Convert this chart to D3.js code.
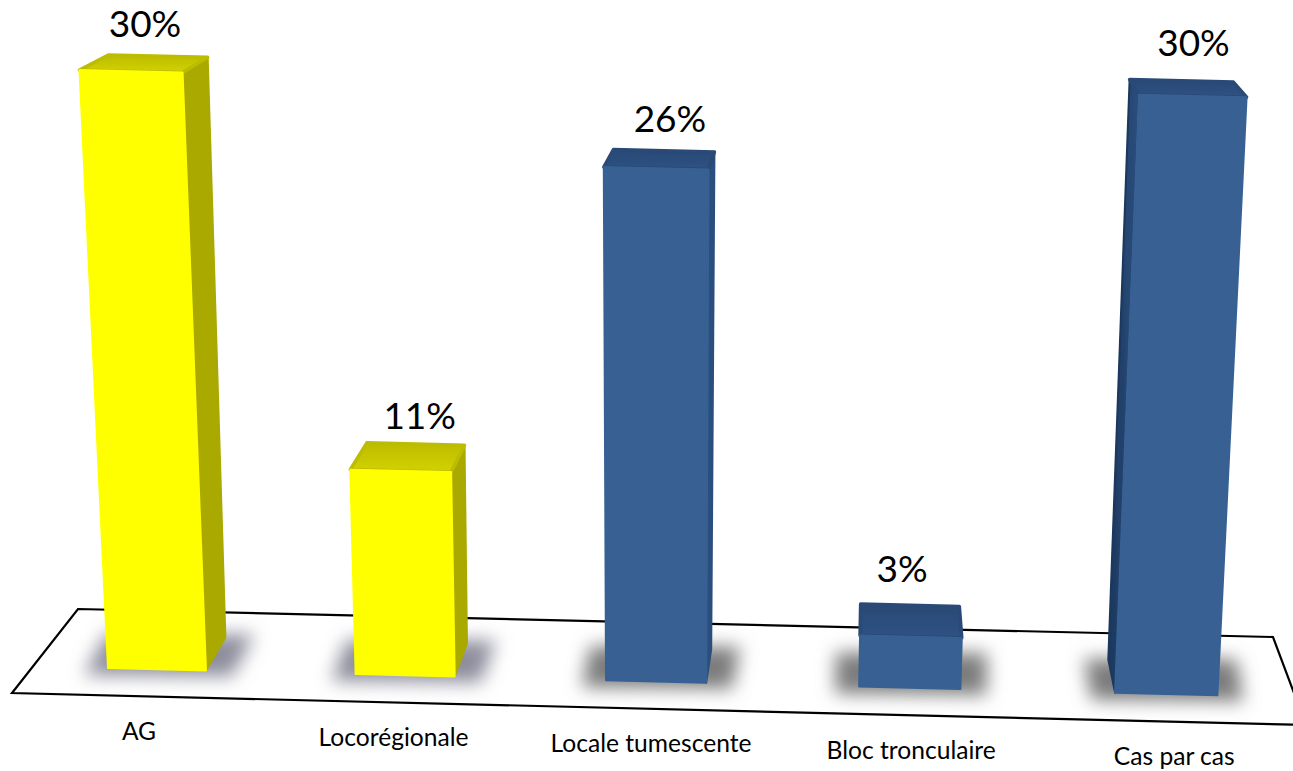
<!DOCTYPE html>
<html>
<head>
<meta charset="utf-8">
<script src="https://cdn.jsdelivr.net/npm/d3@7/dist/d3.min.js"></script>
<style>
html,body{margin:0;padding:0;background:#fff;overflow:hidden}
svg{display:block}
text{font-family:Lato,"Noto Sans",sans-serif;fill:#000}
</style>
</head>
<body>
<svg id="chart" width="1293" height="771"></svg>
<script>
// ---- data
const categories = ["AG", "Locorégionale", "Locale tumescente", "Bloc tronculaire", "Cas par cas"];
const percentages = [30, 11, 26, 3, 30];
const groups = ["yellow", "yellow", "blue", "blue", "blue"];

// ---- layout (hand-placed value labels in the original)
const labelNudgeX = [-13, 4, 6, -8, 12];
const labelLift = [19, 15, 19, 23, 25];

const palette = {
  yellow: {front: "#ffff00", top0: "#bcbc00", top1: "#d2d200", side0: "#b4b400", side1: "#a9a900", shadow: "#8d8d9c"},
  blue:   {front: "#376193", top0: "#294a76", top1: "#2e5283", side0: "#1b375c", side1: "#2c4f7f", shadow: "#7c7c7c"}
};

const svg = d3.select("#chart");
const defs = svg.append("defs");
defs.append("filter").attr("id", "soft").attr("x", "-30%").attr("y", "-80%").attr("width", "160%").attr("height", "260%")
  .append("feGaussianBlur").attr("stdDeviation", 9);
defs.append("filter").attr("id", "edge").attr("x", "-10%").attr("y", "-10%").attr("width", "120%").attr("height", "120%")
  .append("feGaussianBlur").attr("stdDeviation", 0.7);

Object.entries(palette).forEach(([k, c]) => {
  const t = defs.append("linearGradient").attr("id", "top-" + k).attr("x1", 0).attr("y1", 0).attr("x2", 0).attr("y2", 1);
  t.append("stop").attr("offset", "0%").attr("stop-color", c.top0);
  t.append("stop").attr("offset", "100%").attr("stop-color", c.top1);
  const s = defs.append("linearGradient").attr("id", "side-" + k).attr("x1", 0).attr("y1", 0).attr("x2", 1).attr("y2", 0);
  s.append("stop").attr("offset", "0%").attr("stop-color", c.side0);
  s.append("stop").attr("offset", "100%").attr("stop-color", c.side1);
});

// ---- scales
const xBand = d3.scaleBand().domain(categories).range([108, 1215]).paddingInner(0.603).paddingOuter(0);
const heightScale = d3.scalePow().exponent(1.07).domain([0, 30]).range([0, 598]);

// floor and perspective projection
const warp = x => x + 2.17e-5 * (x - 108) * (x - 1115);
const baseY = x => 668 + 0.0245 * (x - 108);
const vanishX = 656, vanishDist = 11500;
const front = (xb, h) => [vanishX + (xb - vanishX) * (1 + h / vanishDist), baseY(xb) - h];
const depth = ([x, y], h) => [
  x + (880 - x) * 0.036 * (0.8 + 0.2 * h / 600),
  y - (33 - 18 * h / 600)
];
const poly = d3.line();

// ---- floor
const floorCorners = [[78, 609], [1273, 637], [1306, 725], [12, 693]];
svg.append("path")
  .attr("d", poly(floorCorners) + "Z")
  .attr("fill", "none").attr("stroke", "#000").attr("stroke-width", 2.2).attr("stroke-linejoin", "miter");

const rows = categories.map((c, i) => {
  const left = xBand(c);
  const xl = warp(left), xr = warp(left + xBand.bandwidth());
  const h = heightScale(percentages[i]);
  const p = {
    c, v: percentages[i], k: groups[i], i, h,
    fl0: front(xl, 0), fr0: front(xr, 0),
    fl1: front(xl, h), fr1: front(xr, h)
  };
  p.bl1 = depth(p.fl1, h); p.br1 = depth(p.fr1, h);
  p.bl0 = depth(p.fl0, 0); p.br0 = depth(p.fr0, 0);
  return p;
});

// ---- shadows
svg.append("g").selectAll("path").data(rows).join("path")
  .attr("d", d => {
    const [lx, ly] = d.fl0, [rx, ry] = d.fr0;
    const lean = d.bl0[0] - lx;
    return poly([
      [lx - 24, ly + 7], [rx + 26, ry + 6],
      [rx + 26 + lean, ry - 36], [lx - 24 + lean, ly - 34]
    ]) + "Z";
  })
  .attr("fill", d => palette[d.k].shadow)
  .attr("filter", "url(#soft)");

// ---- bars
const bars = svg.append("g").selectAll("g").data(rows).join("g").attr("filter", "url(#edge)");
const faceStyle = (sel, fill) => sel.attr("fill", fill).attr("stroke", fill)
  .attr("stroke-width", 3.5).attr("stroke-linejoin", "round");

// side faces: whichever side of the block faces the viewer
bars.filter(d => d.br1[0] > d.fr1[0]).append("path")
  .attr("d", d => poly([d.fr1, d.br1, d.br0, d.fr0]) + "Z")
  .call(faceStyle, d => palette[d.k].side1)
  .attr("stroke-width", 2);
bars.filter(d => d.bl1[0] < d.fl1[0]).append("path")
  .attr("d", d => poly([d.fl1, d.bl1, d.bl0, d.fl0]) + "Z")
  .call(faceStyle, d => `url(#side-${d.k})`)
  .attr("stroke", d => palette[d.k].side0)
  .attr("stroke-width", 2);

// top face
bars.append("path")
  .attr("d", d => poly([d.fl1, d.fr1, d.br1, d.bl1]) + "Z")
  .call(faceStyle, d => `url(#top-${d.k})`)
  .attr("stroke", d => palette[d.k].top0);

// front face
bars.append("path")
  .attr("d", d => poly([d.fl1, d.fr1, d.fr0, d.fl0]) + "Z")
  .attr("fill", d => palette[d.k].front)
  .attr("stroke", d => palette[d.k].front)
  .attr("stroke-width", 2).attr("stroke-linejoin", "round");

// ---- value labels
svg.append("g").selectAll("text").data(rows).join("text")
  .attr("x", d => (d.bl1[0] + d.br1[0]) / 2 + labelNudgeX[d.i])
  .attr("y", d => (d.bl1[1] + d.br1[1]) / 2 - labelLift[d.i])
  .attr("text-anchor", "middle")
  .attr("font-size", 37)
  .text(d => d.v + "%");

// ---- category labels
svg.append("g").selectAll("text").data(rows).join("text")
  .attr("x", d => {
    const cx = (d.fl0[0] + d.fr0[0]) / 2;
    return cx - 18 + (cx - 157) * 0.0258;
  })
  .attr("y", d => (d.fl0[1] + d.fr0[1]) / 2 + 71)
  .attr("text-anchor", "middle")
  .attr("font-size", 24.6)
  .text(d => d.c);
</script>
</body>
</html>
